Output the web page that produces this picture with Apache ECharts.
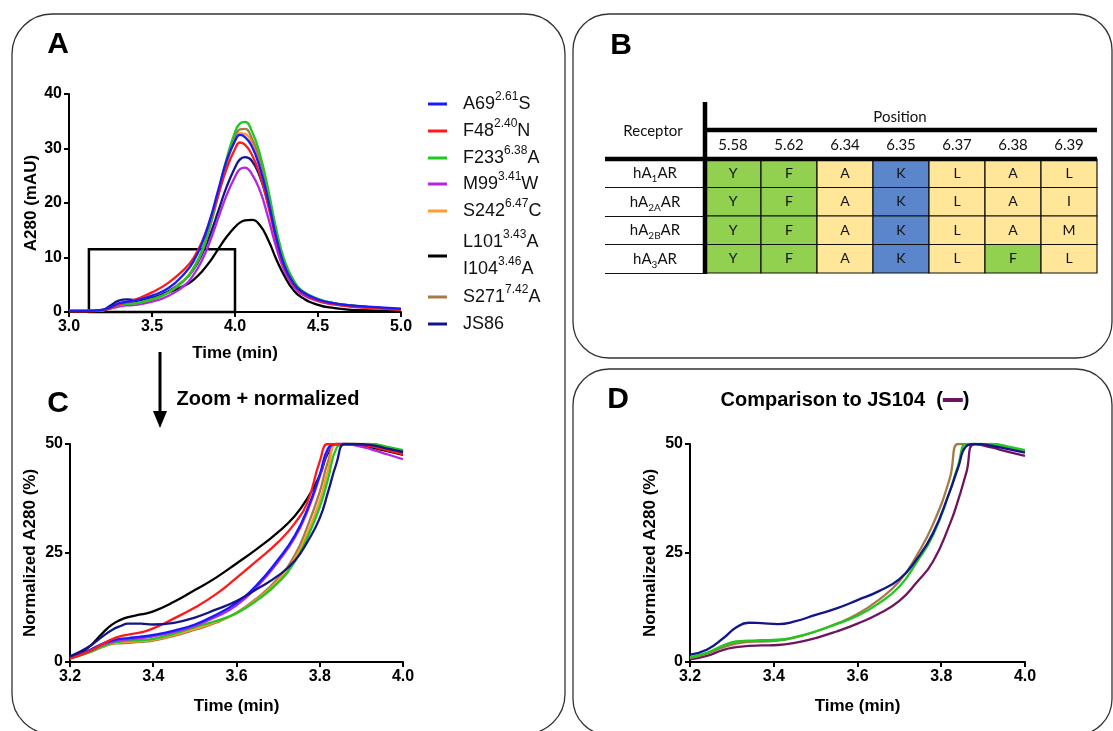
<!DOCTYPE html>
<html>
<head>
<meta charset="utf-8">
<script src="https://cdn.jsdelivr.net/npm/echarts@6/dist/echarts.min.js"></script>
<style>
  html, body { margin: 0; padding: 0; background: #fff; }
  #chart { width: 1113px; height: 731px; }
</style>
</head>
<body>
<div id="chart"></div>
<script>
// ---- panel A: raw A280 traces (mAU) ----
const timeA = [3.0, 3.1, 3.2, 3.25, 3.3, 3.35, 3.4, 3.5, 3.6, 3.7, 3.75, 3.8, 3.85, 3.9, 3.95, 4.0, 4.03, 4.06, 4.1, 4.15, 4.2, 4.25, 4.3, 4.35, 4.4, 4.5, 4.6, 4.7, 4.8, 4.9, 5.0];
const a69A = [0.2, 0.2, 0.4, 0.9, 1.6, 1.9, 2.1, 3.0, 4.4, 7.2, 9.3, 12.5, 17.0, 22.5, 27.8, 31.4, 32.5, 32.1, 30.5, 26.5, 20.5, 13.5, 8.3, 5.4, 3.8, 2.3, 1.6, 1.2, 1.0, 0.8, 0.6];
const f48A = [0.1, 0.1, 0.3, 0.7, 1.4, 1.8, 2.3, 3.6, 5.4, 8.0, 9.9, 12.8, 16.9, 21.6, 26.3, 29.9, 31.1, 30.7, 29.0, 25.2, 19.5, 13.0, 8.0, 5.2, 3.6, 2.1, 1.4, 1.0, 0.8, 0.6, 0.4];
const f233A = [0.2, 0.2, 0.3, 0.7, 1.3, 1.5, 1.6, 2.3, 3.6, 6.0, 8.1, 11.2, 16.0, 22.0, 28.2, 33.0, 34.6, 34.9, 33.3, 29.0, 22.5, 15.0, 9.3, 6.0, 4.0, 2.4, 1.6, 1.2, 0.9, 0.7, 0.5];
const m99A = [0.2, 0.2, 0.3, 0.6, 1.0, 1.2, 1.3, 1.9, 3.0, 5.0, 6.8, 9.4, 13.0, 17.3, 21.5, 24.8, 26.2, 26.5, 25.4, 22.3, 17.3, 11.7, 7.4, 4.8, 3.3, 2.0, 1.4, 1.0, 0.8, 0.6, 0.5];
const s242A = [0.2, 0.2, 0.3, 0.7, 1.3, 1.5, 1.6, 2.3, 3.6, 6.0, 8.0, 11.0, 15.7, 21.4, 27.2, 31.6, 32.8, 32.7, 31.2, 27.2, 21.0, 14.2, 8.9, 5.7, 3.9, 2.3, 1.6, 1.2, 0.9, 0.7, 0.5];
const l101A = [0.1, 0.1, 0.3, 0.8, 1.5, 1.8, 2.0, 2.6, 3.6, 4.9, 5.9, 7.4, 9.3, 11.6, 13.8, 15.6, 16.4, 16.8, 16.9, 15.9, 13.2, 9.6, 6.5, 4.1, 2.7, 1.3, 0.7, 0.4, 0.3, 0.2, 0.1];
const s271A = [0.2, 0.2, 0.3, 0.7, 1.3, 1.5, 1.6, 2.3, 3.6, 6.0, 8.0, 11.0, 15.8, 21.6, 27.6, 32.2, 33.5, 33.6, 32.0, 27.8, 21.7, 14.6, 9.1, 5.9, 3.9, 2.3, 1.6, 1.2, 0.9, 0.7, 0.5];
const js86A = [0.2, 0.2, 0.4, 1.2, 2.1, 2.3, 2.2, 2.6, 3.8, 6.0, 7.8, 10.5, 14.2, 18.6, 23.0, 26.5, 28.0, 28.4, 27.8, 24.8, 19.8, 13.8, 8.7, 5.6, 3.7, 2.2, 1.5, 1.1, 0.9, 0.7, 0.5];
// zoom window drawn on panel A: [t0, t1, y0, y1]
const zoomBox = [3.12, 4.0, 0, 11.5];

// ---- panel C: zoomed + normalized (%) ----
const timeC = [3.2, 3.24, 3.28, 3.3, 3.32, 3.34, 3.37, 3.4, 3.45, 3.5, 3.55, 3.6, 3.65, 3.7, 3.74, 3.77, 3.8, 3.82, 3.84, 3.86, 3.88, 3.92, 3.96, 4.0];
const l101C = [1.2, 3.0, 6.8, 8.5, 9.6, 10.3, 10.9, 11.6, 13.8, 16.5, 19.3, 22.6, 26.0, 29.8, 33.5, 37.5, 42.8, 48.0, 50, 50, 50, 49.3, 48.4, 47.5];
const f48C = [0.8, 2.2, 4.2, 5.2, 5.9, 6.3, 6.8, 7.7, 10.0, 12.5, 15.5, 19.3, 23.3, 27.5, 31.8, 36.5, 46.0, 50, 50, 50, 50, 49.5, 48.6, 47.6];
const a69C = [1.0, 2.4, 4.3, 4.9, 5.3, 5.5, 5.8, 6.2, 7.2, 8.6, 10.8, 13.6, 17.8, 23.5, 29.0, 35.0, 43.0, 49.0, 50, 50, 50, 49.6, 48.9, 48.0];
const m99C = [0.9, 2.2, 4.0, 4.6, 5.0, 5.2, 5.5, 5.9, 6.9, 8.3, 10.3, 13.0, 17.3, 23.0, 28.5, 34.5, 42.5, 48.5, 50, 50, 49.8, 48.9, 47.7, 46.5];
const f233C = [0.8, 2.0, 3.7, 4.4, 4.7, 4.9, 5.0, 5.3, 6.5, 8.0, 9.4, 11.2, 14.2, 18.2, 23.0, 28.5, 35.5, 42.0, 49.0, 50, 50, 50, 49.4, 48.6];
const s242C = [0.8, 2.0, 3.6, 4.2, 4.5, 4.6, 4.8, 5.1, 6.2, 7.6, 9.2, 11.2, 14.4, 18.7, 23.7, 29.5, 37.0, 44.0, 50, 50, 50, 50, 49.3, 48.3];
const s271C = [0.8, 2.0, 3.5, 4.1, 4.3, 4.4, 4.6, 4.9, 6.0, 7.4, 9.0, 11.3, 14.7, 19.2, 24.5, 31.0, 39.0, 46.0, 50, 50, 50, 50, 49.2, 48.2];
const js86C = [1.3, 3.2, 6.0, 7.3, 8.2, 8.8, 8.8, 8.6, 9.0, 10.2, 12.0, 14.0, 16.8, 19.8, 23.2, 27.5, 33.0, 39.0, 45.5, 50, 50, 49.8, 49.0, 48.2];

// ---- panel D: comparison to JS104 (%) ----
const timeD = [3.2, 3.24, 3.28, 3.31, 3.34, 3.37, 3.41, 3.45, 3.5, 3.55, 3.6, 3.65, 3.7, 3.74, 3.78, 3.82, 3.84, 3.86, 3.88, 3.92, 3.96, 4.0];
const js86D = [1.7, 2.8, 5.5, 7.9, 9.0, 8.9, 8.7, 9.3, 10.8, 12.3, 14.2, 16.2, 19.0, 23.4, 29.5, 39.0, 44.5, 49.5, 50, 49.6, 48.8, 48.0];
const s271D = [0.9, 1.9, 3.4, 4.2, 4.6, 4.7, 4.9, 5.6, 7.0, 8.8, 11.0, 14.2, 18.5, 24.2, 31.5, 42.0, 50, 50, 50, 50, 49.2, 48.3];
const f233D = [1.1, 2.1, 3.8, 4.7, 4.9, 5.0, 5.1, 5.7, 7.0, 8.7, 10.6, 13.4, 17.3, 22.7, 29.0, 39.0, 45.0, 50, 50, 50, 49.4, 48.6];
const js104D = [0.6, 1.4, 2.8, 3.4, 3.7, 3.8, 3.9, 4.4, 5.5, 7.0, 8.8, 11.0, 14.0, 18.1, 23.0, 31.5, 37.0, 43.5, 50, 49.2, 48.2, 47.3];

// ---- panel B: binding pocket residues ----
const positions = ["5.58", "5.62", "6.34", "6.35", "6.37", "6.38", "6.39"];
const receptors = ["hA1AR", "hA2AAR", "hA2BAR", "hA3AR"];
const receptorLabels = ["hA{b|1}AR", "hA{b|2A}AR", "hA{b|2B}AR", "hA{b|3}AR"];
const hA1 = ["Y", "F", "A", "K", "L", "A", "L"];
const hA2A = ["Y", "F", "A", "K", "L", "A", "I"];
const hA2B = ["Y", "F", "A", "K", "L", "A", "M"];
const hA3 = ["Y", "F", "A", "K", "L", "F", "L"];
const residueRows = [hA1, hA2A, hA2B, hA3];

// ---- legend of panel A ----
const legendOrder = ["A69", "F48", "F233", "M99", "S242", "L101", "S271", "JS86"];
const legendLabels = {
  A69: "{n|A69}{s|2.61}{n|S}",
  F48: "{n|F48}{s|2.40}{n|N}",
  F233: "{n|F233}{s|6.38}{n|A}",
  M99: "{n|M99}{s|3.41}{n|W}",
  S242: "{n|S242}{s|6.47}{n|C}",
  L101: "{n|L101}{s|3.43}{n|A}\n{n|I104}{s|3.46}{n|A}",
  S271: "{n|S271}{s|7.42}{n|A}",
  JS86: "{n|JS86}",
};
const legendRowY = [104, 131, 158, 184, 211, 256, 297, 324];

const FONT = "Liberation Sans";
const colors = {
  A69: "#1a1aff", F48: "#ff1a1a", F233: "#1ec81e", M99: "#b424e6",
  S242: "#ff9a2e", L101: "#000000", S271: "#a47a45", JS86: "#15158a", JS104: "#6e1461",
};
const residueColor = { Y: "#92d050", F: "#92d050", K: "#5b86cb", A: "#ffe699", L: "#ffe699", I: "#ffe699", M: "#ffe699" };

const line = (name, xs, ys, idx) => ({
  name,
  type: "line",
  xAxisIndex: idx,
  yAxisIndex: idx,
  data: xs.map((x, i) => [x, ys[i]]),
  smooth: 0.5,
  showSymbol: false,
  symbol: "none",
  lineStyle: { color: colors[name], width: 2.3 },
  itemStyle: { color: colors[name] },
});

const valueAxis = (idx, min, max, interval, name, nameGap, digits) => ({
  type: "value",
  gridIndex: idx,
  min, max, interval,
  name, nameGap,
  nameLocation: "middle",
  nameTextStyle: { color: "#000", fontFamily: FONT, fontWeight: "bold", fontSize: 17 },
  axisLine: { show: true, onZero: false, lineStyle: { color: "#000", width: 2 } },
  axisTick: { show: true, length: 5, lineStyle: { color: "#000", width: 2 } },
  splitLine: { show: false },
  axisLabel: {
    color: "#000", fontFamily: FONT, fontWeight: "bold", fontSize: 16, margin: 7,
    formatter: (v) => v.toFixed(digits),
  },
});

const chart = echarts.init(document.getElementById("chart"), null, { renderer: "canvas" });

const seriesA = [
  line("L101", timeA, l101A, 0), line("M99", timeA, m99A, 0), line("JS86", timeA, js86A, 0),
  line("S242", timeA, s242A, 0), line("S271", timeA, s271A, 0), line("F233", timeA, f233A, 0),
  line("F48", timeA, f48A, 0), line("A69", timeA, a69A, 0),
];
seriesA[0].markArea = {
  silent: true,
  itemStyle: { color: "rgba(0,0,0,0)", borderColor: "#000", borderWidth: 2.5 },
  data: [[{ coord: [zoomBox[0], zoomBox[2]] }, { coord: [zoomBox[1], zoomBox[3]] }]],
};

const seriesC = [
  line("L101", timeC, l101C, 1), line("S271", timeC, s271C, 1), line("S242", timeC, s242C, 1),
  line("F233", timeC, f233C, 1), line("M99", timeC, m99C, 1), line("A69", timeC, a69C, 1),
  line("F48", timeC, f48C, 1), line("JS86", timeC, js86C, 1),
];

const seriesD = [
  line("JS104", timeD, js104D, 2), line("S271", timeD, s271D, 2),
  line("F233", timeD, f233D, 2), line("JS86", timeD, js86D, 2),
];

const cells = [];
residueRows.forEach((row, yi) => row.forEach((_, xi) => cells.push([xi, yi])));

const tableSeries = {
  type: "custom",
  xAxisIndex: 3,
  yAxisIndex: 3,
  data: cells,
  renderItem: (params, api) => {
    const xi = api.value(0);
    const yi = api.value(1);
    const c = api.coord([xi, yi]);
    const s = api.size([1, 1]);
    const res = residueRows[yi][xi];
    return {
      type: "group",
      children: [
        {
          type: "rect",
          shape: { x: c[0] - s[0] / 2, y: c[1] - s[1] / 2, width: s[0], height: s[1] },
          style: { fill: residueColor[res], stroke: "#111", lineWidth: 1.2 },
        },
        {
          type: "text",
          style: { text: res, x: c[0], y: c[1], align: "center", verticalAlign: "middle", fontSize: 14, fontFamily: "Lato", fill: "#111" },
        },
      ],
    };
  },
};

const panelStroke = { fill: "none", stroke: "#333", lineWidth: 1.3 };
const bigLetter = (text, x, y) => ({
  type: "text", x, y,
  style: { text, align: "center", verticalAlign: "middle", font: `bold 30px "${FONT}"`, fill: "#000" },
});

const legendRich = {
  n: { fontFamily: FONT, fontSize: 18, lineHeight: 27, fill: "#111" },
  s: { fontFamily: FONT, fontSize: 12, lineHeight: 14, verticalAlign: "top", fill: "#111" },
};
const legendGraphics = [];
legendOrder.forEach((name, i) => {
  const y = legendRowY[i];
  legendGraphics.push({
    type: "line", shape: { x1: 428, y1: y, x2: 447, y2: y },
    style: { stroke: colors[name], lineWidth: 3 },
  });
  legendGraphics.push({
    type: "text", x: 463, y,
    style: { text: legendLabels[name], align: "left", verticalAlign: "middle", rich: legendRich },
  });
});

chart.setOption({
  animation: false,
  backgroundColor: "#fff",
  grid: [
    { left: 69, top: 94, width: 332, height: 218 },
    { left: 70, top: 444, width: 333, height: 218 },
    { left: 690, top: 444, width: 335, height: 218 },
    { left: 705, top: 159, width: 392, height: 114 },
  ],
  xAxis: [
    valueAxis(0, 3, 5, 0.5, "Time (min)", 33, 1),
    valueAxis(1, 3.2, 4.0, 0.2, "Time (min)", 36, 1),
    valueAxis(2, 3.2, 4.0, 0.2, "Time (min)", 36, 1),
    {
      type: "category", gridIndex: 3, position: "top", data: positions,
      axisLine: { show: false }, axisTick: { show: false },
      axisLabel: { color: "#111", fontFamily: "Lato", fontSize: 15, margin: 6 },
    },
  ],
  yAxis: [
    valueAxis(0, 0, 40, 10, "A280 (mAU)", 26, 0),
    valueAxis(1, 0, 50, 25, "Normalized A280 (%)", 31, 0),
    valueAxis(2, 0, 50, 25, "Normalized A280 (%)", 31, 0),
    {
      type: "category", gridIndex: 3, inverse: true, data: receptors,
      axisLine: { show: false },
      axisTick: { show: true, length: 100, lineStyle: { color: "#111", width: 1.2 } },
      axisLabel: {
        color: "#111", fontFamily: "Lato", fontSize: 15, lineHeight: 22, align: "center", margin: 50,
        formatter: (v, i) => receptorLabels[i],
        rich: { b: { fontFamily: "Lato", fontSize: 10, lineHeight: 10, verticalAlign: "bottom", color: "#111" } },
      },
    },
  ],
  graphic: [
    // panel frames
    { type: "rect", shape: { x: 12, y: 14, width: 553, height: 720, r: 40 }, style: panelStroke, silent: true },
    { type: "rect", shape: { x: 573, y: 14, width: 539, height: 344, r: 36 }, style: panelStroke, silent: true },
    { type: "rect", shape: { x: 573, y: 369, width: 539, height: 366, r: 36 }, style: panelStroke, silent: true },
    bigLetter("A", 58, 45),
    bigLetter("B", 621, 46),
    bigLetter("C", 58, 404),
    bigLetter("D", 618, 400),
    ...legendGraphics,
    // zoom arrow
    { type: "line", shape: { x1: 160, y1: 352, x2: 160, y2: 414 }, style: { stroke: "#000", lineWidth: 3 } },
    { type: "polygon", shape: { points: [[153, 411], [167, 411], [160, 428]] }, style: { fill: "#000" } },
    {
      type: "text", x: 268, y: 399,
      style: { text: "Zoom + normalized", align: "center", verticalAlign: "middle", font: `bold 20px "${FONT}"`, fill: "#000" },
    },
    {
      type: "text", x: 845, y: 400,
      style: {
        text: "{t|Comparison to JS104  (}{d|}{t|)}",
        align: "center", verticalAlign: "middle",
        rich: {
          t: { fontFamily: FONT, fontWeight: "bold", fontSize: 20, fill: "#000", lineHeight: 24 },
          d: { width: 20, height: 4, backgroundColor: colors.JS104, verticalAlign: "middle" },
        },
      },
    },
    // table header and thick rules
    {
      type: "text", x: 653, y: 131,
      style: { text: "Receptor", align: "center", verticalAlign: "middle", font: '15px "Lato"', fill: "#111" },
    },
    {
      type: "text", x: 900, y: 117,
      style: { text: "Position", align: "center", verticalAlign: "middle", font: '15px "Lato"', fill: "#111" },
    },
    { type: "line", shape: { x1: 705, y1: 130, x2: 1097, y2: 130 }, style: { stroke: "#000", lineWidth: 4.5 }, z: 10 },
    { type: "line", shape: { x1: 605, y1: 159, x2: 1097, y2: 159 }, style: { stroke: "#000", lineWidth: 4.5 }, z: 10 },
    { type: "line", shape: { x1: 705, y1: 102, x2: 705, y2: 274 }, style: { stroke: "#000", lineWidth: 4.5 }, z: 10 },
  ],
  series: [...seriesA, ...seriesC, ...seriesD, tableSeries],
});
</script>
</body>
</html>
